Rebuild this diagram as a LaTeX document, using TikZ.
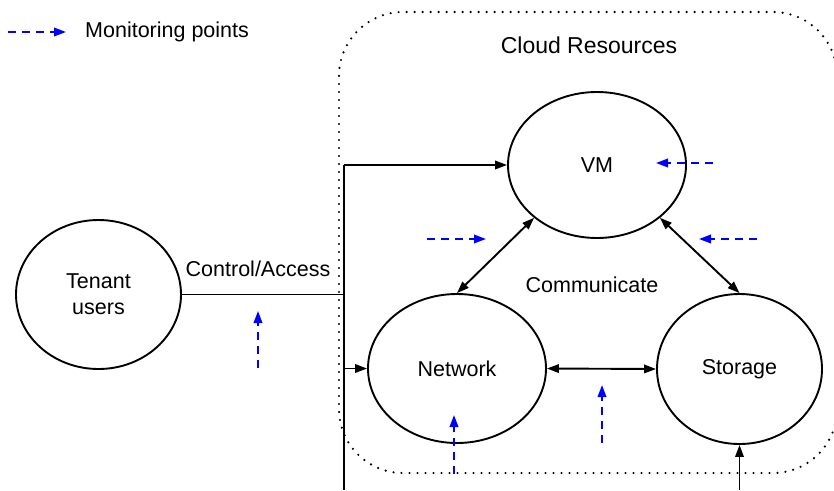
\documentclass[tikz,border=0pt]{standalone}
\usepackage{fontspec}
\setmainfont{Liberation Sans}
\usetikzlibrary{shapes.geometric,arrows.meta}
\begin{document}
\begin{tikzpicture}[x=1pt,y=-1pt,
  txt/.style={font=\fontsize{21.5}{26}\selectfont, inner sep=0pt},
  ell/.style={ellipse, draw, line width=1.9pt, inner sep=0pt, font=\fontsize{21.5}{26}\selectfont, align=center},
  conn/.style={line width=1.9pt, -{Triangle[length=12pt,width=8.5pt]}},
  bconn/.style={line width=1.9pt, {Triangle[length=12pt,width=8.5pt]}-{Triangle[length=12pt,width=8.5pt]}},
  mon/.style={blue, line width=2pt, dash pattern=on 8pt off 6pt, -{Triangle[length=12pt,width=8.5pt]}},
  cloud/.style={line width=2.4pt, dash pattern=on 0pt off 8pt, line cap=round, rounded corners=64pt}
]
\useasboundingbox (0,0) rectangle (834,490);
% cloud boundary
\draw[cloud] (339,12) rectangle (837,473);
\node[txt] (cloudlbl) at (589,45) {\fontsize{23}{27}\selectfont Cloud Resources};
% legend
\coordinate (lg1) at (8,32);
\coordinate (lg2) at (66,32);
\draw[mon] (lg1) -- (lg2);
\node[txt, anchor=west] (lgtxt) at (85,32) {Monitoring points};
% nodes
\node[ell, minimum width=165pt, minimum height=149pt] (tenant) at (98.5,294.5) {Tenant\\users};
\node[ell, minimum width=178pt, minimum height=146pt] (vm) at (597,165) {VM};
\node[ell, minimum width=178pt, minimum height=149pt] (net) at (457,368.5) {Network};
\node[ell, minimum width=165pt, minimum height=150pt] (sto) at (739.5,369) {Storage};
\node[txt] (ctl) at (258,269) {Control/Access};
\node[txt] (comm) at (592,285) {Communicate};
% control connectors
\coordinate (vtop) at (344,165);
\coordinate (vbot) at (344,490);
\coordinate (vnet) at (344,368.5);
\draw[line width=1.9pt] (tenant.east) -- (tenant.east -| vtop);
\draw[line width=1.9pt] (vtop) -- (vbot);
\draw[conn] (vtop) -- (vm.west);
\draw[conn] (vnet) -- (net.west);
% communication
\draw[bconn] (vm.220) -- (net.north);
\draw[bconn] (vm.320) -- (sto.north);
\draw[bconn] (net.east) -- (sto.west);
\coordinate (sbot) at (739.5,490);
\draw[conn] (sbot) -- (sto.south);
% monitoring points
\coordinate (m1a) at (713,163); \coordinate (m1b) at (656,163);
\coordinate (m2a) at (427,239); \coordinate (m2b) at (486,239);
\coordinate (m3a) at (757,239); \coordinate (m3b) at (699,239);
\coordinate (m4a) at (258,368); \coordinate (m4b) at (258,311);
\coordinate (m5a) at (454,474); \coordinate (m5b) at (454,415);
\coordinate (m6a) at (602,443); \coordinate (m6b) at (602,385);
\draw[mon] (m1a) -- (m1b);
\draw[mon] (m2a) -- (m2b);
\draw[mon] (m3a) -- (m3b);
\draw[mon] (m4a) -- (m4b);
\draw[mon] (m5a) -- (m5b);
\draw[mon] (m6a) -- (m6b);
\end{tikzpicture}
\end{document}
